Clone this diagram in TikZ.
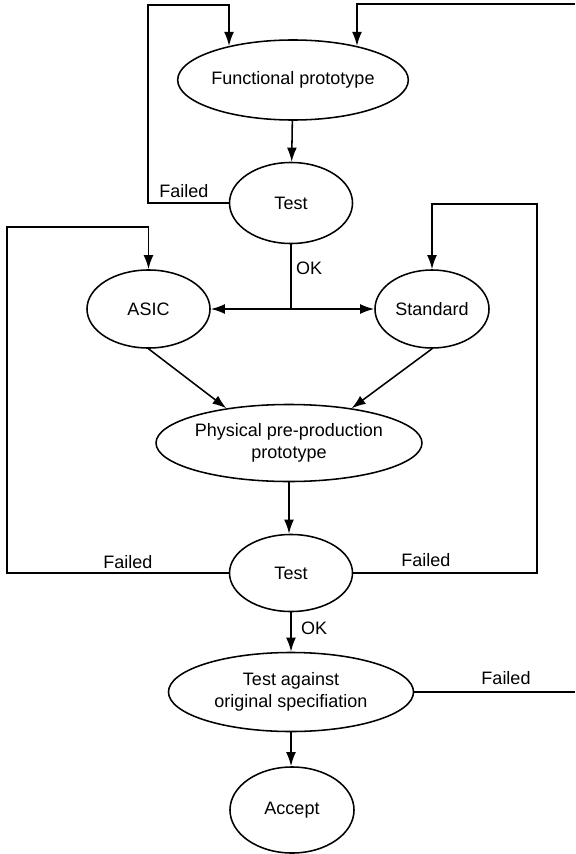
\documentclass[tikz,border=0pt]{standalone}
\usepackage{fontspec}
\setmainfont{Liberation Sans}
\usepackage{tikz}
\usetikzlibrary{calc}
\usetikzlibrary{arrows.meta}
\usetikzlibrary{shapes.geometric}
\tikzset{>={Latex[length=10pt,width=7pt]}}
\tikzset{etapa/.style={draw,ellipse,inner sep=0pt,align=center}}
\tikzset{rotulo/.style={inner sep=1pt}}

\begin{document}
\begin{tikzpicture}[x=0.025cm,y=-0.025cm,line width=1.1pt,font=\fontsize{12.8}{16}\selectfont]
	\useasboundingbox (0,0) rectangle (575,854);
	\node[etapa,minimum width=5.125cm,minimum height=2cm] (funcional) at (293,80) {Functional prototype};
	\node[etapa,minimum width=3.075cm,minimum height=2.025cm] (testa) at (291,203) {Test};
	\node[etapa,minimum width=3.075cm,minimum height=1.95cm] (asic) at (148.5,309) {ASIC};
	\node[etapa,minimum width=2.85cm,minimum height=1.95cm] (estandar) at (432,309) {Standard};
	\node[etapa,minimum width=6.175cm,minimum height=1.925cm] (fisico) at (289,443) {Physical pre-production\\prototype};
	\node[etapa,minimum width=3.075cm,minimum height=1.925cm] (testb) at (291,573) {Test};
	\node[etapa,minimum width=6.125cm,minimum height=1.975cm] (especif) at (291,692) {Test against\\original specifiation};
	\node[etapa,minimum width=3.1cm,minimum height=2.15cm] (acepta) at (292,810) {Accept};
	\coordinate (bucleA) at (148,5);
	\coordinate (bordeA) at (575,4);
	\coordinate (cruce) at (291,309);
	\coordinate (bucleB) at (7,227);
	\coordinate (bucleC) at (537,204);
	\coordinate (bordeB) at (575,692);
	\draw[->] (funcional)--(testa);
	\draw[->] (testa.west) -| (bucleA) -| (funcional.152);
	\draw[->] (bordeA) -| (funcional.28);
	\node[rotulo] (fallaA) at (184,191) {Failed};
	\draw (testa.south)--(cruce);
	\draw[->] (cruce)--(asic.east);
	\draw[->] (cruce)--(estandar.west);
	\node[rotulo,anchor=west] (okA) at (294,268) {OK};
	\draw[->] (asic.south)--(fisico.151);
	\draw[->] (estandar.south)--(fisico.29);
	\draw[->] (fisico.south)--(testb.north -| fisico.south);
	\draw[->] (testb.west) -| (bucleB) -| (asic.north);
	\draw[->] (testb.east) -| (bucleC) -| (estandar.north);
	\node[rotulo] (fallaB) at (128,562) {Failed};
	\node[rotulo] (fallaC) at (426,560) {Failed};
	\draw[->] (testb.south)--(especif.north);
	\node[rotulo,anchor=west] (okB) at (299,628) {OK};
	\draw (especif.east)--(bordeB);
	\node[rotulo] (fallaD) at (506,678) {Failed};
	\draw[->] (especif.south)--(acepta.north -| especif.south);
\end{tikzpicture}
\end{document}
